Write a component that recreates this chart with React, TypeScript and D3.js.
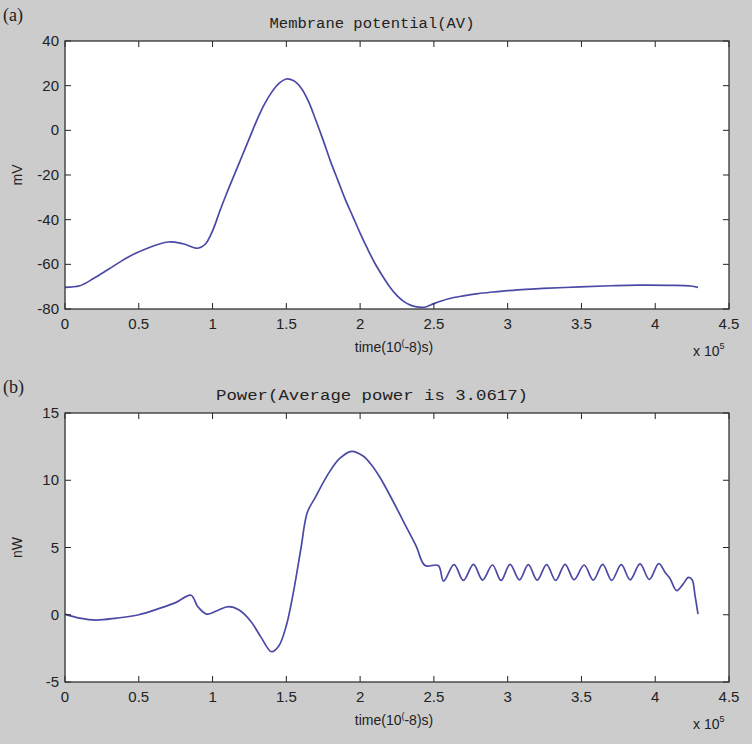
import React from "react";
import * as d3 from "d3";

// ---- Data (x in units of 1e5 × 1e-8 s) ----
const timeA = [0, 0.1, 0.19, 0.3, 0.42, 0.55, 0.7, 0.8, 0.9, 0.95, 1.0, 1.05, 1.1, 1.15, 1.2, 1.25, 1.3, 1.35, 1.4, 1.45, 1.5, 1.55, 1.6, 1.65, 1.7, 1.75, 1.8, 1.85, 1.9, 1.95, 2.0, 2.05, 2.1, 2.15, 2.2, 2.25, 2.3, 2.35, 2.4, 2.45, 2.5, 2.6, 2.7, 2.8, 2.9, 3.0, 3.12, 3.24, 3.49, 3.7, 3.88, 4.1, 4.24, 4.29];
const membraneMV = [-70.3, -69.6, -66.5, -62, -57, -53, -50, -50.8, -52.8, -51, -45, -36, -27.5, -19.5, -11.5, -3.5, 4.5, 11.5, 17, 21, 23, 22.2, 19, 13, 4.5, -4.5, -14, -22.5, -31, -38.5, -46, -53, -59.5, -65, -70, -74, -76.8, -78.5, -79.2, -79, -77.6, -75.4, -74.1, -73.1, -72.4, -71.8, -71.2, -70.8, -70.1, -69.6, -69.3, -69.4, -69.7, -70.3];

const timeB = [0, 0.1, 0.21, 0.35, 0.5, 0.64, 0.75, 0.854, 0.9, 0.96, 1.03, 1.107, 1.18, 1.26, 1.33, 1.4, 1.45, 1.5, 1.55, 1.6, 1.642, 1.7, 1.78, 1.86, 1.943, 2.02, 2.08, 2.135, 2.225, 2.3, 2.38, 2.44, 2.53,
  2.565, 2.637, 2.7, 2.768, 2.83, 2.897, 2.955, 3.016, 3.08, 3.14, 3.2, 3.264, 3.325, 3.389, 3.45, 3.518, 3.58, 3.644, 3.705, 3.77, 3.83, 3.897, 3.96, 4.024,
  4.07, 4.1, 4.145, 4.19, 4.225, 4.25, 4.27, 4.29];
const powerNW = [0.05, -0.25, -0.4, -0.25, 0, 0.47, 0.9, 1.45, 0.6, 0.05, 0.3, 0.6, 0.35, -0.5, -1.7, -2.75, -2.3, -0.8, 1.8, 5, 7.6, 8.8, 10.4, 11.6, 12.15, 11.8, 11.1, 10.2, 8.4, 6.8, 5.1, 3.66, 3.66,
  2.5, 3.72, 2.55, 3.75, 2.58, 3.7, 2.55, 3.74, 2.6, 3.72, 2.57, 3.73, 2.55, 3.75, 2.6, 3.7, 2.58, 3.74, 2.56, 3.72, 2.6, 3.78, 2.62, 3.8,
  3.1, 2.7, 1.8, 2.3, 2.78, 2.6, 1.4, 0.05];

const xTicks = [0, 0.5, 1, 1.5, 2, 2.5, 3, 3.5, 4, 4.5];
const yTicksA = [40, 20, 0, -20, -40, -60, -80];
const yTicksB = [15, 10, 5, 0, -5];

const BG = "#cccccc";
const LINE = "#4a4aa6";
const TICKFONT = "'Liberation Sans', Arial, sans-serif";
const MONO = "'Liberation Mono', 'DejaVu Sans Mono', monospace";

type PanelProps = {
  top: number;
  bottom: number;
  xs: number[];
  ys: number[];
  yDomain: [number, number];
  yTicks: number[];
  title: string;
  titleLen: number;
  ylabel: string;
  tag: string;
};

const LEFT = 65;
const RIGHT = 729;

function Panel({ top, bottom, xs, ys, yDomain, yTicks, title, titleLen, ylabel, tag }: PanelProps) {
  const x = d3.scaleLinear().domain([0, 4.5]).range([LEFT, RIGHT]);
  const y = d3.scaleLinear().domain(yDomain).range([bottom, top]);
  const pts: [number, number][] = xs.map((v, i) => [v, ys[i]]);
  const line = d3
    .line<[number, number]>()
    .x((d) => x(d[0]))
    .y((d) => y(d[1]))
    .curve(d3.curveCatmullRom.alpha(0.5));
  const tl = 6;
  return (
    <g>
      <text x={3} y={top - 20} fontFamily="'Liberation Serif', serif" fontSize={18} fill="#222">{tag}</text>
      <text x={372} y={top - 13} textAnchor="middle" fontFamily={MONO} fontSize={14} fill="#222" textLength={titleLen} lengthAdjust="spacingAndGlyphs">{title}</text>
      <rect x={LEFT} y={top} width={RIGHT - LEFT} height={bottom - top} fill="#ffffff" />
      <path d={line(pts) || ""} fill="none" stroke={LINE} strokeWidth={1.7} strokeLinejoin="round" />
      {xTicks.map((t) => (
        <g key={"x" + t}>
          <line x1={x(t)} x2={x(t)} y1={bottom} y2={bottom - tl} stroke="#222" strokeWidth={1} />
          <line x1={x(t)} x2={x(t)} y1={top} y2={top + tl} stroke="#222" strokeWidth={1} />
          <text x={x(t)} y={bottom + 20} textAnchor="middle" fontFamily={TICKFONT} fontSize={15} fill="#222">{t}</text>
        </g>
      ))}
      {yTicks.map((t) => (
        <g key={"y" + t}>
          <line x1={LEFT} x2={LEFT + tl} y1={y(t)} y2={y(t)} stroke="#222" strokeWidth={1} />
          <line x1={RIGHT} x2={RIGHT - tl} y1={y(t)} y2={y(t)} stroke="#222" strokeWidth={1} />
          <text x={59} y={y(t) + 5} textAnchor="end" fontFamily={TICKFONT} fontSize={15} fill="#222">{t}</text>
        </g>
      ))}
      <rect x={LEFT} y={top} width={RIGHT - LEFT} height={bottom - top} fill="none" stroke="#333" strokeWidth={1.3} />
      <text x={394} y={bottom + 43} textAnchor="middle" fontFamily={TICKFONT} fontSize={14} fill="#222">
        time(10<tspan dy={-6} fontSize={9}>(</tspan><tspan dy={6}>-8)s)</tspan>
      </text>
      <text x={693} y={bottom + 47} fontFamily={TICKFONT} fontSize={14} fill="#222">
        x 10<tspan dy={-7} fontSize={9}>5</tspan>
      </text>
      <text transform={`translate(22,${(top + bottom) / 2}) rotate(-90)`} textAnchor="middle" fontFamily={TICKFONT} fontSize={14} fill="#222">{ylabel}</text>
    </g>
  );
}

export default function App() {
  return (
    <svg width={752} height={744} style={{ display: "block", position: "absolute", left: 0, top: 0, background: BG }}>
      <rect x={0} y={0} width={752} height={744} fill={BG} />
      <Panel top={41} bottom={309} xs={timeA} ys={membraneMV} yDomain={[-80, 40]} yTicks={yTicksA} title="Membrane potential(AV)" titleLen={205} ylabel="mV" tag="(a)" />
      <Panel top={413} bottom={682} xs={timeB} ys={powerNW} yDomain={[-5, 15]} yTicks={yTicksB} title="Power(Average power is 3.0617)" titleLen={312} ylabel="nW" tag="(b)" />
    </svg>
  );
}
